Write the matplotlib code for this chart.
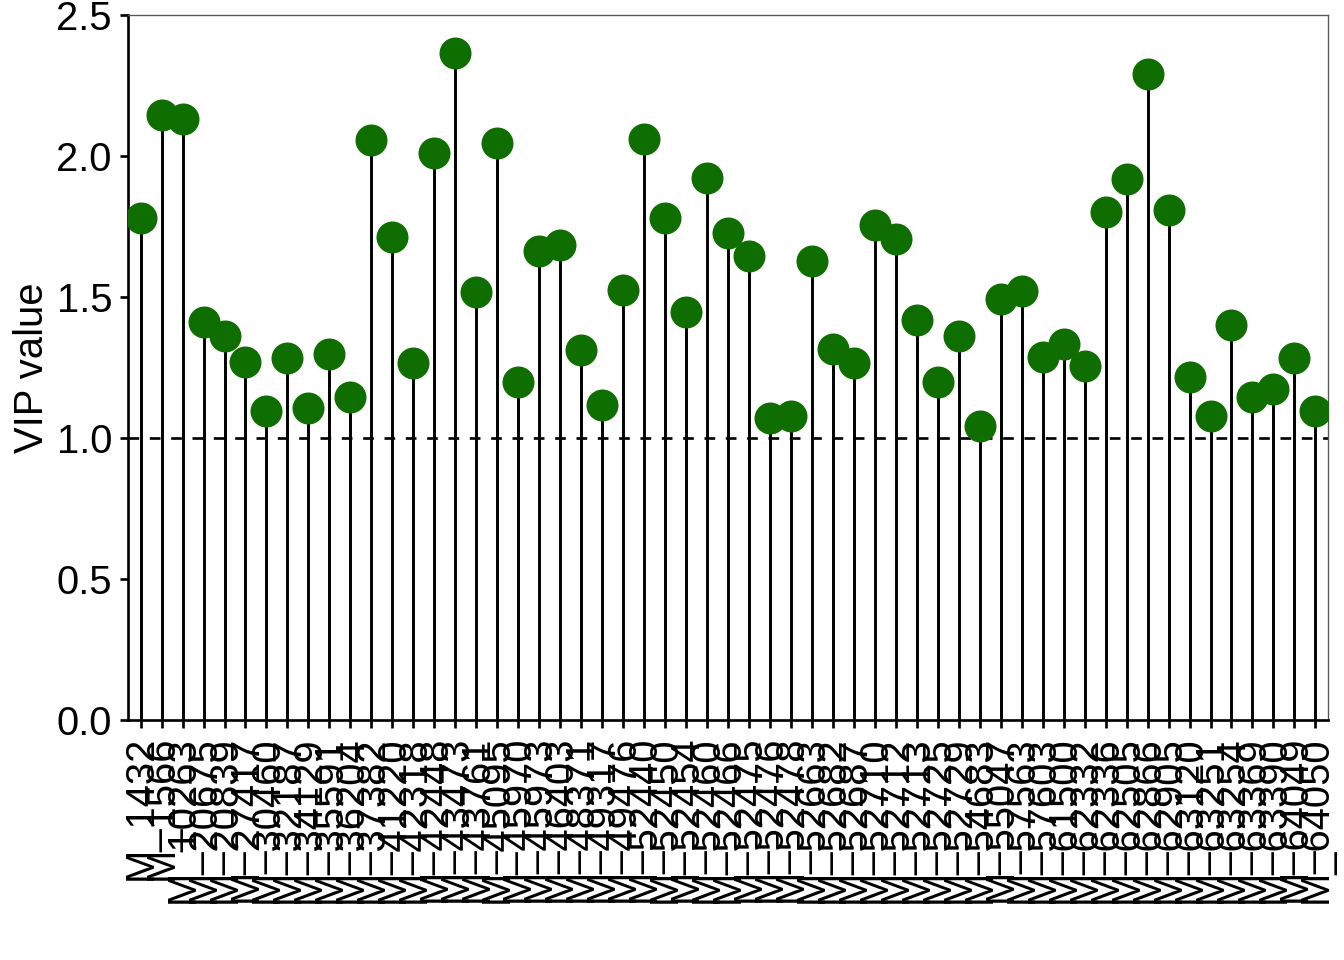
import matplotlib
matplotlib.use("Agg")
import matplotlib.pyplot as plt

plt.rcParams['font.family'] = ['Liberation Sans', 'DejaVu Sans']

# metabolite ids (x axis) and their VIP scores
labels = [
    "M_1432", "M_1566", "M_10263", "M_20675", "M_20839", "M_27417", "M_30460",
    "M_32187", "M_34129", "M_35591", "M_36204", "M_37382", "M_41220", "M_42318",
    "M_42448", "M_43473", "M_43761", "M_45095", "M_45970", "M_45973", "M_46403",
    "M_48371", "M_49317", "M_49476", "M_52440", "M_52450", "M_52454", "M_52460",
    "M_52466", "M_52475", "M_52476", "M_52478", "M_52663", "M_52682", "M_52687",
    "M_52710", "M_52712", "M_52713", "M_52725", "M_52729", "M_54683", "M_55047",
    "M_57563", "M_57603", "M_61500", "M_62332", "M_62336", "M_62505", "M_62866",
    "M_62905", "M_63120", "M_63251", "M_63254", "M_63369", "M_63390", "M_64049",
    "M_64050",
]
vip = [
    1.780, 2.145, 2.130, 1.410, 1.362, 1.268, 1.097, 1.284, 1.108, 1.299,
    1.145, 2.055, 1.711, 1.265, 2.009, 2.366, 1.516, 2.045, 1.197, 1.662,
    1.683, 1.313, 1.116, 1.525, 2.061, 1.781, 1.446, 1.921, 1.727, 1.646,
    1.071, 1.079, 1.626, 1.315, 1.265, 1.756, 1.705, 1.418, 1.200, 1.360,
    1.043, 1.492, 1.521, 1.286, 1.333, 1.254, 1.801, 1.917, 2.291, 1.810,
    1.216, 1.079, 1.400, 1.147, 1.174, 1.283, 1.097,
]

fig = plt.figure(figsize=(7, 5), dpi=192)
ax = fig.add_axes([128 / 1344, 240 / 960, 1200 / 1344, 705 / 960])

x = list(range(1, len(vip) + 1))
ax.vlines(x, 0, vip, color="black", lw=1.1, zorder=2)
ax.axhline(1.0, color="black", lw=1.0, linestyle=(0, (4, 4)), zorder=1)
ax.plot(x, vip, "o", color="#0F6E00", markersize=12, markeredgewidth=0, zorder=3)

ax.set_xlim(0.4, len(vip) + 0.6)
ax.set_ylim(0, 2.5)
ax.set_yticks([0, 0.5, 1.0, 1.5, 2.0, 2.5])
ax.set_yticklabels(["0.0", "0.5", "1.0", "1.5", "2.0", "2.5"])
ax.set_xticks(x)
ax.set_xticklabels(labels, rotation=90, ha="center", va="top")
ax.tick_params(axis="both", labelsize=15, length=3, width=1.0,
               color="black", labelcolor="black", pad=3)
ax.set_ylabel("VIP value", fontsize=15, labelpad=2)

for side in ["top", "right"]:
    ax.spines[side].set_color("#555555")
    ax.spines[side].set_linewidth(0.5)
for side in ["left", "bottom"]:
    ax.spines[side].set_color("black")
    ax.spines[side].set_linewidth(1.0)

fig.savefig("out.png", dpi=192)
